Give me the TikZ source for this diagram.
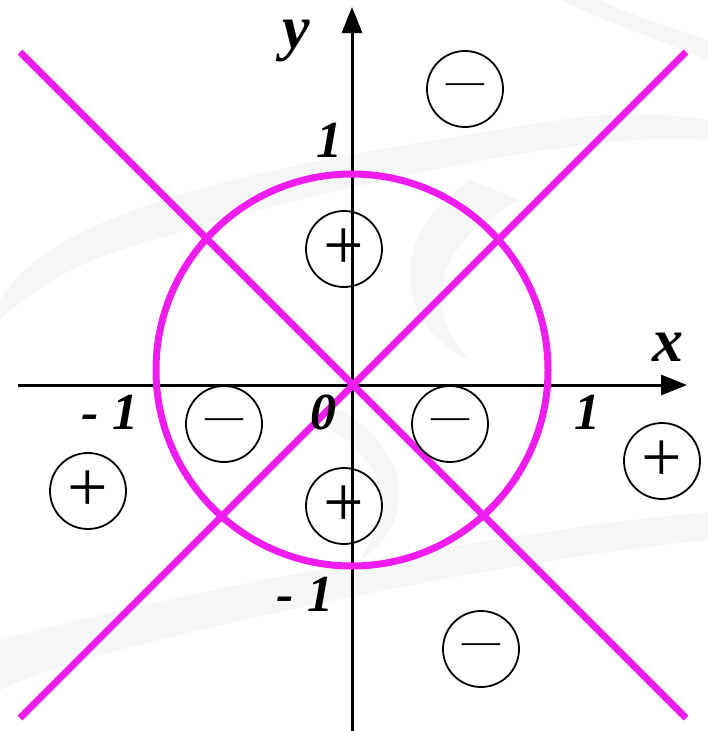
\documentclass[tikz,border=0pt]{standalone}
\usepackage{fontspec}
\setmainfont{Liberation Serif}
\usetikzlibrary{arrows.meta}
\definecolor{mag}{RGB}{238,28,236}
\definecolor{swirl}{RGB}{246,246,246}
\begin{document}
\begin{tikzpicture}[x=1pt,y=-1pt,
  axis/.style={line width=3pt,black},
  axarrow/.style={-{Triangle[length=26pt,width=20pt]}},
  curve/.style={line width=7pt,mag},
  sign/.style={circle,draw,line width=1.8pt,minimum size=76pt,inner sep=0pt},
  lab/.style={font=\fontsize{52}{52}\selectfont\bfseries\itshape,inner sep=0pt},
  varlab/.style={font=\fontsize{62}{62}\selectfont\bfseries\itshape,inner sep=0pt},
  plussign/.style={font=\fontsize{72}{72}\selectfont},
  minussign/.style={font=\fontsize{38}{38}\selectfont}]
\useasboundingbox (0,0) rectangle (708,731);
% faint background swirls
\fill[swirl] (0,300) .. controls (60,200) and (300,160) .. (560,120) .. controls (620,110) and (680,115) .. (708,120)
  -- (708,140) .. controls (620,130) and (380,170) .. (120,250) .. controls (60,270) and (20,300) .. (0,320) -- cycle;
\fill[swirl] (708,60) .. controls (660,40) and (600,20) .. (560,0) -- (600,0) .. controls (640,20) and (680,30) .. (708,40) -- cycle;
\fill[swirl] (0,640) .. controls (150,600) and (350,560) .. (560,530) .. controls (620,520) and (680,515) .. (708,512)
  -- (708,540) .. controls (600,550) and (350,590) .. (120,650) .. controls (60,665) and (20,680) .. (0,690) -- cycle;
\fill[swirl] (470,180) .. controls (380,240) and (400,330) .. (470,360) .. controls (430,320) and (420,250) .. (520,200) -- cycle;
\fill[swirl] (310,420) .. controls (380,450) and (400,500) .. (360,560) .. controls (420,520) and (410,450) .. (340,410) -- cycle;
% coordinates
\coordinate (O) at (352,385);
\coordinate (xl) at (18,385);
\coordinate (xr) at (687,385);
\coordinate (yb) at (352,731);
\coordinate (yt) at (352,7);
\coordinate (tl) at (20,52);
\coordinate (br) at (686,718);
\coordinate (bl) at (20,718);
\coordinate (tr) at (686,52);
% axes
\draw[axis,axarrow] (xl) -- (xr);
\draw[axis,axarrow] (yb) -- (yt);
% magenta curves
\draw[curve] (tl) -- (br);
\draw[curve] (bl) -- (tr);
\node[circle,draw=mag,line width=7pt,minimum size=392pt,inner sep=0pt] (c) at (352,370) {};
% labels
\node[varlab] (ly) at (296,41) {y};
\node[varlab] (lx) at (668,347) {x};
\node[lab] (l1y) at (329,140) {1};
\node[lab] (lm1x) at (110,412) {- 1};
\node[lab] (l0) at (323,412) {0};
\node[lab] (l1x) at (587,412) {1};
\node[lab] (lm1y) at (305,594) {- 1};
% sign circles
\node[sign,minussign] (s1) at (465,89) {—};
\node[sign,plussign] (s2) at (344,249) {+};
\node[sign,minussign] (s3) at (224,424) {—};
\node[sign,minussign] (s4) at (450,424) {—};
\node[sign,plussign] (s5) at (662,461) {+};
\node[sign,plussign] (s6) at (88,491) {+};
\node[sign,plussign] (s7) at (344,506) {+};
\node[sign,minussign] (s8) at (481,649) {—};
\end{tikzpicture}
\end{document}
